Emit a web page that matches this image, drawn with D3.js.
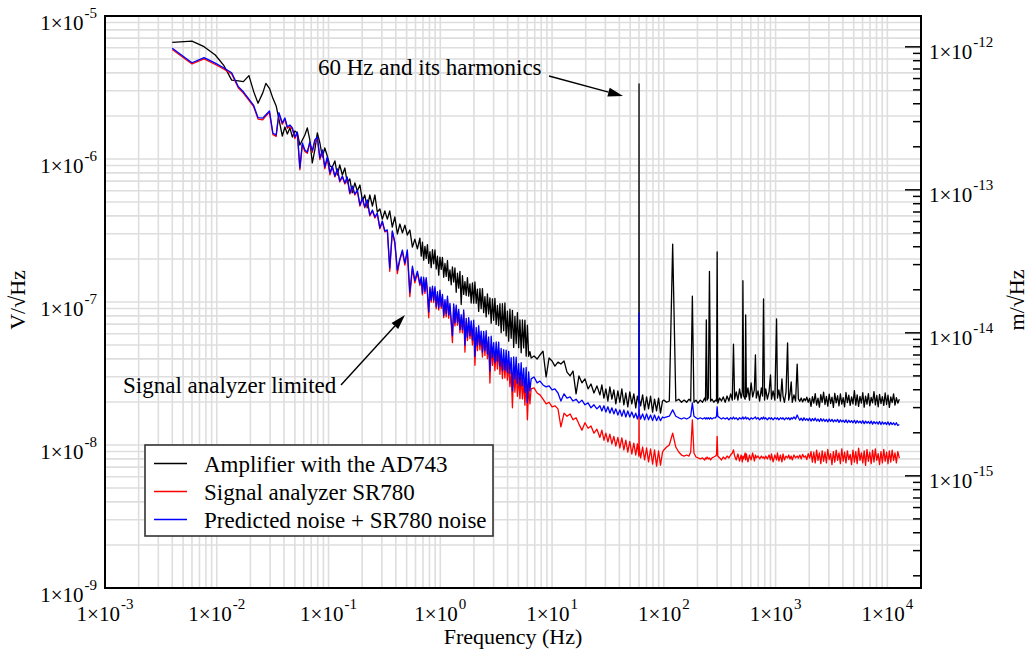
<!DOCTYPE html>
<html>
<head>
<meta charset="utf-8">
<script src="https://cdn.jsdelivr.net/npm/d3@7"></script>
<style>
  html, body { margin: 0; padding: 0; background: #ffffff; }
  svg { display: block; }
  svg text { font-family: "Liberation Serif", "Times New Roman", Times, "DejaVu Serif", serif; }
</style>
</head>
<body>
<svg id="chart" width="1033" height="651"></svg>
<script>
// Noise spectral density of the AD743 amplifier, SR780 floor and prediction.
// Amplitudes are stored in nV/√Hz; frequencies in Hz. Four SR780 sweeps are stitched.

// Sweep 1: 4 mHz – 0.1 Hz
const sweep1Hz = [0.004, 0.006, 0.0077, 0.0097, 0.0115, 0.0136, 0.0156, 0.0173, 0.0194, 0.0214,
  0.0234, 0.0258, 0.0275, 0.0296, 0.0318, 0.034, 0.036, 0.0386, 0.0407, 0.0428,
  0.0451, 0.0475, 0.05, 0.0526, 0.0554, 0.0583, 0.0614, 0.0646, 0.068, 0.0716,
  0.0754, 0.0794, 0.0837, 0.088, 0.0926, 0.0975, 0.103];
const sweep1Amplifier = [6550, 6680, 6100, 5335, 4540, 3560, 3520, 3475, 3830, 2960,
  2455, 2900, 3380, 3120, 2655, 2350, 1900, 1448, 1674, 1496,
  1649, 1425, 1570, 1521, 1253, 1359, 1472, 1649, 1359, 938,
  1157, 1521, 1294, 1033, 1195, 1050, 893];
const sweep1Analyzer = [5830, 4620, 5010, 4580, 4260, 3930, 3140, 2890, 2570, 2320,
  1900, 1880, 2000, 2120, 1480, 1440, 2070, 1750, 1900, 1640,
  1690, 1610, 1390, 1510, 840, 1260, 1130, 1095, 1290, 1115,
  1330, 1395, 990, 1130, 855, 1010, 775];
const sweep1Predicted = [5945, 4710, 5110, 4680, 4350, 4010, 3205, 2950, 2620, 2370,
  1945, 1930, 2040, 2168, 1514, 1473, 2110, 1786, 1937, 1674,
  1729, 1649, 1425, 1545, 866, 1294, 1157, 1120, 1316, 1139,
  1359, 1425, 1018, 1157, 879, 1033, 799];

// Sweep 2: 0.1 Hz – 6.4 Hz
const sweep2Hz = [0.108, 0.114, 0.120, 0.126, 0.133, 0.140, 0.147, 0.155, 0.163, 0.172,
  0.181, 0.191, 0.201, 0.211, 0.222, 0.234, 0.247, 0.260, 0.273, 0.288,
  0.303, 0.319, 0.336, 0.353, 0.372, 0.392, 0.413, 0.435, 0.458, 0.482,
  0.507, 0.534, 0.563, 0.592, 0.624, 0.657,
  0.675, 0.692, 0.710, 0.729, 0.748, 0.767, 0.788, 0.808, 0.829, 0.851,
  0.873, 0.896, 0.919, 0.943, 0.968, 0.993, 1.019, 1.045, 1.073, 1.101,
  1.129, 1.159, 1.189, 1.220, 1.252, 1.284, 1.318, 1.352, 1.388, 1.424,
  1.461, 1.499, 1.538, 1.578, 1.620, 1.662, 1.705, 1.749, 1.795, 1.842,
  1.890, 1.939, 1.990, 2.041, 2.095, 2.149, 2.205, 2.262, 2.321, 2.382,
  2.444, 2.508, 2.573, 2.640, 2.709, 2.780, 2.852, 2.927, 3.003, 3.081,
  3.162, 3.244, 3.329, 3.415, 3.504, 3.596, 3.690, 3.786, 3.885, 3.986,
  4.090, 4.198, 4.307, 4.419, 4.535, 4.653, 4.775, 4.898, 5.026, 5.158,
  5.292, 5.430, 5.571, 5.717, 5.866, 6.019, 6.176, 6.336];
const sweep2Amplifier = [879, 969, 773, 908, 773, 865, 680, 725, 579, 680,
  597, 658, 509, 560, 455, 560, 469, 560, 426, 447,
  380, 433, 380, 433, 334, 393, 299, 351, 304, 345,
  294, 319, 242, 275, 235, 280,
  209, 262, 196, 245, 202, 252, 186, 225, 174, 232,
  185, 231, 170, 209, 154, 206, 169, 205, 149, 186,
  151, 195, 141, 168, 132, 176, 138, 173, 117, 159,
  125, 164, 96, 153, 113, 139, 111, 148, 110, 134,
  98.4, 136, 98.2, 138, 97.9, 123, 85.9, 124, 89.9, 124,
  84.2, 109, 78.7, 114, 82.4, 107, 71.1, 105, 74.5, 106,
  69.7, 94.5, 68.4, 97.4, 61.0, 97.2, 62.9, 98.5, 57.9, 86.4,
  53.2, 89.0, 55.8, 87.4, 48.1, 79.2, 51.2, 84.3, 47.9, 75.1,
  44.1, 74.9, 47.7, 74.8, 41.8, 68.8, 41.7, 45];
const sweep2Analyzer = [879, 749, 838, 691, 749, 669, 736, 570, 637, 560,
  597, 469, 525, 455, 509, 400, 433, 387, 412, 325,
  362, 309, 314, 164, 309, 258, 158, 197, 224, 181,
  224, 109, 172, 136, 159, 130,
  145, 112, 144, 115, 144, 114, 77.5, 123, 99.7, 125,
  99.2, 124, 89.7, 114, 87.9, 117, 90.3, 109, 77.7, 100,
  78.6, 105, 77.0, 93.2, 70.7, 52.0, 92.5, 68.0, 90.6, 68.8,
  84.6, 61.2, 77.7, 60.9, 83.8, 44.6, 73.3, 53.8, 74.1, 55.4,
  68.1, 50.0, 68.9, 36.1, 61.3, 45.7, 62.9, 46.2, 57.8, 41.2,
  57.5, 42.3, 58.1, 40.1, 52.5, 27.1, 50.6, 36.0, 45.7, 33.1,
  46.2, 34.0, 46.1, 31.2, 41.6, 29.1, 40.8, 29.4, 40.5, 28.4,
  36.6, 25.6, 33.0, 18.2, 33.5, 23.4, 33.3, 21.9, 30.1, 21.1,
  30.5, 21.0, 27.9, 19.0, 28.3, 15.0, 26.3, 19.4];
const sweep2Predicted = [893, 761, 852, 702, 761, 680, 748, 579, 647, 569,
  607, 477, 534, 462, 517, 406, 440, 393, 419, 330,
  368, 314, 319, 173, 314, 262, 167, 200, 231, 187,
  231, 117, 178, 141, 164, 134,
  150, 115, 149, 119, 148, 118, 85.3, 127, 103, 129,
  103, 128, 92.7, 118, 90.8, 121, 93.3, 113, 80.3, 104,
  82.5, 110, 80.8, 97.8, 74.2, 58.2, 97.1, 71.4, 95.1, 72.2,
  88.8, 64.2, 81.5, 63.9, 87.9, 49.9, 76.9, 56.5, 77.8, 58.1,
  73.8, 54.2, 74.6, 41.7, 66.4, 49.5, 68.2, 50.1, 62.6, 44.6,
  62.3, 45.8, 63.0, 43.4, 56.9, 32.9, 57.6, 41.0, 52.0, 37.6,
  52.6, 38.7, 52.4, 35.5, 47.3, 33.1, 46.4, 33.5, 46.1, 32.3,
  45.2, 31.6, 40.8, 23.9, 41.3, 28.9, 41.1, 27.0, 37.1, 26.0,
  37.6, 25.9, 34.5, 23.4, 34.9, 19.8, 32.5, 23.9];

// Sweep 3: 6.4 Hz – 100 Hz (mains line at 60 Hz)
const sweep3Hz = [6.5, 6.9, 7.35, 7.8, 8.3, 8.85, 9.4, 10.0, 10.6, 11.3,
  12.0, 12.8, 13.6, 14.5, 15.4, 16.4, 17.4, 18.5, 19.7, 21.0,
  22.3, 23.7, 25.2, 26.8, 27.9, 29.1, 30.3, 31.6, 32.9, 34.3,
  35.7, 37.2, 38.8, 40.4, 42.1, 43.9, 45.7, 47.6, 49.6, 51.7,
  53.9, 56.1, 58.0, 59.8, 60.0, 60.2, 62.0, 64.6, 67.3, 70.1,
  73.0, 76.1, 79.3, 82.6, 86.1, 89.7, 93.4, 97.3];
const sweep3Amplifier = [40.6, 41.9, 39.9, 42.6, 45.3, 29.9, 40.6, 38.7, 35.6, 38.0,
  36.8, 38.7, 32.3, 30.4, 32.9, 22.8, 30.4, 27.2, 29.0, 24.7,
  26.7, 23.1, 25.9, 22.4, 26.3, 21.3, 24.7, 20.3, 25.5, 20.9,
  24.3, 19.4, 23.9, 19.9, 24.7, 19.1, 23.1, 18.5, 23.5, 19.4,
  22.8, 18.2, 22.0, 19.7, 3345, 21.3, 18.8, 22.4, 17.6, 21.7,
  17.9, 22.0, 17.0, 20.9, 17.3, 21.3, 16.7, 20.3];
const sweep3Analyzer = [24.7, 25.1, 23.1, 22.4, 20.9, 19.4, 19.9, 18.5, 18.8, 17.9,
  13.4, 16.7, 15.9, 16.5, 15.0, 15.5, 14.0, 12.7, 14.3, 13.1,
  13.6, 12.1, 12.9, 11.3, 12.7, 10.8, 12.1, 10.5, 11.9, 10.2,
  11.5, 9.84, 11.3, 9.53, 11.2, 9.23, 10.8, 8.93, 10.6, 8.65,
  10.3, 8.51, 10.2, 8.37, 17.6, 9.84, 8.12, 9.68, 7.86, 9.53,
  7.61, 9.38, 7.36, 9.23, 7.12, 9.08, 7.24, 8.93];
const sweep3Predicted = [29.0, 29.9, 27.2, 28.0, 26.3, 25.5, 25.9, 24.3, 24.7, 23.1,
  20.3, 22.8, 21.3, 21.7, 20.3, 20.9, 19.7, 20.6, 19.1, 19.7,
  18.2, 19.1, 17.9, 18.8, 17.3, 18.8, 17.0, 18.5, 16.7, 18.2,
  16.5, 17.9, 16.2, 17.6, 15.9, 17.6, 15.7, 17.3, 15.7, 17.0,
  15.5, 16.7, 15.2, 16.5, 83.8, 16.7, 15.2, 16.5, 15.0, 16.5,
  15.0, 16.2, 14.8, 16.2, 14.8, 15.9, 14.8, 15.7];

// Sweep 4: 100 Hz – 12.8 kHz (harmonics of 60 Hz)
const sweep4Hz = [100, 106, 112, 120, 128, 136, 144, 152, 160, 168,
  174, 180, 186, 194, 202, 212, 222, 232, 236, 240,
  244, 250, 256, 262, 270, 280, 290, 296, 300, 304,
  316, 328, 340, 354, 368, 382, 396, 410, 420, 430,
  445, 460, 476, 492, 504, 510, 518, 534, 540, 548,
  566, 584, 604, 624, 646, 660, 672, 696, 720, 746,
  764, 780, 796, 816, 844, 874, 900, 920, 950, 985,
  1020, 1040, 1070, 1105, 1140, 1165, 1200, 1240, 1280, 1310,
  1345, 1380, 1410, 1460, 1510, 1560,
  1600, 1647, 1695, 1745, 1796, 1848, 1902, 1958, 2016, 2075,
  2135, 2198, 2262, 2328, 2396, 2466, 2539, 2612, 2689, 2767,
  2848, 2932, 3017, 3105, 3196, 3290, 3386, 3485, 3587, 3692,
  3800, 3911, 4025, 4143, 4264, 4389, 4517, 4649, 4785, 4926,
  5070, 5218, 5370, 5528, 5689, 5856, 6027, 6203, 6385, 6571,
  6763, 6961, 7166, 7375, 7591, 7813, 8041, 8277, 8519, 8768,
  9024, 9290, 9561, 9840, 10130, 10420, 10730, 11040, 11370, 11700,
  12040, 12400, 12800];
const sweep4Amplifier = [20.6, 19.9, 20.3, 254, 20.3, 20.9, 19.9, 20.6, 19.9, 20.9,
  20.3, 110, 19.9, 20.6, 19.6, 20.6, 19.9, 21.3, 20.3, 75,
  20.6, 21.3, 164, 20.3, 20.9, 19.9, 20.6, 20.3, 224, 19.6,
  21.3, 20.3, 21.7, 19.9, 22.0, 20.3, 22.8, 20.6, 50.8, 20.9,
  23.5, 20.6, 24.7, 21.3, 23.5, 141, 22.0, 20.9, 81.1, 21.7,
  25.1, 20.6, 27.2, 21.7, 24.3, 42.6, 21.3, 23.9, 20.3, 25.1,
  22.0, 105, 20.6, 24.7, 20.9, 23.5, 30.9, 20.9, 23.9, 20.6,
  76.2, 21.3, 24.3, 20.3, 29.0, 22.0, 19.9, 23.5, 51.7, 20.6,
  22.8, 27.6, 19.9, 22.4, 20.3, 36.8,
  21.0, 20.2, 21.3, 20.0, 21.1, 20.4, 21.6, 19.9, 21.2, 18.6,
  21.8, 19.6, 22.9, 19.0, 21.3, 18.4, 22.5, 19.9, 23.4, 19.2,
  21.9, 18.7, 22.7, 19.5, 21.6, 18.3, 23.0, 19.7, 22.1, 18.8,
  22.8, 19.3, 21.4, 18.5, 23.3, 19.8, 22.3, 18.9, 21.7, 19.4,
  24.0, 19.0, 22.4, 18.6, 21.9, 19.6, 23.2, 18.4, 22.0, 19.3,
  22.9, 18.8, 21.5, 19.7, 23.6, 19.1, 22.2, 18.5, 22.6, 19.5,
  21.8, 18.9, 23.1, 19.2, 22.3, 18.3, 21.7, 19.8, 22.8, 19.0,
  21.4, 19.6, 20.9];
const sweep4Analyzer = [9.23, 9.68, 10.0, 12.1, 9.68, 8.93, 8.51, 8.37, 8.51, 8.37,
  8.93, 15.0, 8.79, 8.24, 8.12, 7.99, 8.12, 7.86, 8.12, 7.99,
  8.24, 7.99, 8.12, 7.86, 8.12, 8.24, 8.37, 8.51, 11.5, 8.37,
  8.12, 7.86, 8.24, 7.99, 8.37, 8.12, 8.51, 8.79, 9.23, 8.37,
  7.86, 8.65, 7.73, 8.51, 7.61, 8.37, 7.99, 8.79, 7.86, 8.65,
  7.61, 8.51, 7.86, 8.79, 7.73, 8.51, 8.12, 8.37, 7.99, 8.37,
  8.12, 8.24, 7.99, 8.37, 7.99, 8.51, 7.86, 8.65, 7.61, 8.51,
  7.86, 8.79, 7.73, 8.51, 7.61, 8.65, 7.86, 8.37, 8.12, 8.51,
  7.99, 8.37, 7.86, 8.51, 8.12, 8.37,
  8.1, 8.5, 8.0, 8.6, 8.2, 8.4, 7.9, 8.7, 8.1, 9.0,
  7.6, 8.9, 7.5, 9.2, 7.8, 8.8, 7.4, 9.1, 7.7, 8.9,
  7.5, 9.3, 7.9, 8.7, 7.3, 9.0, 7.6, 9.2, 7.8, 8.8,
  7.4, 9.4, 7.7, 8.9, 7.5, 9.1, 7.9, 8.6, 7.3, 9.2,
  7.6, 9.0, 7.4, 9.5, 7.8, 8.8, 7.5, 9.1, 7.2, 9.3,
  7.7, 8.9, 7.4, 9.2, 7.6, 9.4, 7.8, 8.7, 7.3, 9.0,
  7.5, 9.3, 7.7, 8.9, 7.4, 9.1, 7.6, 9.2, 7.8, 8.8,
  7.5, 9.0, 8.1];
const sweep4Predicted = [15.5, 15.7, 15.9, 17.6, 15.9, 15.5, 15.2, 15.5, 15.2, 15.5,
  15.9, 19.7, 15.9, 15.5, 15.2, 15.5, 15.2, 15.5, 15.2, 15.5,
  15.2, 15.5, 15.2, 15.5, 15.2, 15.5, 15.5, 15.9, 18.5, 15.9,
  15.5, 15.2, 15.5, 15.2, 15.5, 15.0, 15.5, 15.2, 15.7, 15.2,
  15.5, 15.0, 15.5, 15.2, 15.5, 15.7, 15.2, 15.5, 15.7, 15.2,
  15.5, 15.0, 15.5, 15.2, 15.5, 15.7, 15.2, 15.5, 15.0, 15.5,
  15.2, 15.7, 15.2, 15.5, 15.0, 15.5, 15.2, 15.5, 15.0, 15.5,
  15.2, 15.5, 15.0, 15.5, 15.2, 15.5, 15.0, 15.5, 15.2, 15.5,
  15.0, 15.5, 15.2, 15.7, 15.2, 16.2,
  15.5, 14.9, 15.4, 14.8, 15.5, 14.9, 15.3, 14.8, 15.4, 14.7,
  15.3, 14.8, 15.4, 14.7, 15.2, 14.6, 15.3, 14.7, 15.2, 14.6,
  15.1, 14.5, 15.2, 14.6, 15.1, 14.5, 15.0, 14.6, 15.1, 14.4,
  15.0, 14.5, 14.9, 14.4, 15.0, 14.3, 14.9, 14.4, 14.8, 14.3,
  14.9, 14.2, 14.8, 14.3, 14.7, 14.2, 14.8, 14.1, 14.7, 14.2,
  14.6, 14.1, 14.7, 14.0, 14.6, 14.1, 14.5, 14.0, 14.6, 13.9,
  14.5, 14.0, 14.4, 13.9, 14.5, 13.8, 14.4, 13.9, 14.3, 13.8,
  14.3, 13.7, 13.9];

// Axis decades and labels
const freqExponents = [-3, -2, -1, 0, 1, 2, 3, 4];
const voltExponents = [-9, -8, -7, -6, -5];
const metreExponents = [-15, -14, -13, -12];
const seriesLabels = ["Amplifier with the AD743", "Signal analyzer SR780", "Predicted noise + SR780 noise"];
const seriesColors = ["#000000", "#ff0000", "#0000ff"];
const metresPerVolt = 1.63e-7;   // transducer calibration for the right-hand axis

// ---------------------------------------------------------------------------
const serif = "'Liberation Serif', 'Times New Roman', Times, 'DejaVu Serif', serif";
const plot = { left: 105, top: 16, right: 921, bottom: 588 };
const x = d3.scaleLog().domain([1e-3, 2e4]).range([plot.left, plot.right]);
const yV = d3.scaleLog().domain([1e-9, 1e-5]).range([plot.bottom, plot.top]);
const yM = d3.scaleLog().domain([1e-9 * metresPerVolt, 1e-5 * metresPerVolt]).range([plot.bottom, plot.top]);

const svg = d3.select("#chart").attr("font-family", serif);
const mantissas = [1, 2, 3, 4, 5, 6, 7, 8, 9];

// grid
const grid = svg.append("g").attr("stroke", "#dedede").attr("stroke-width", 1.6);
const xGrid = d3.range(-3, 5).flatMap(e => mantissas.map(m => m * Math.pow(10, e)))
  .filter(v => v > 1.0001e-3 && v < 2e4);
const yGrid = d3.range(-9, -5).flatMap(e => mantissas.map(m => m * Math.pow(10, e)))
  .filter(v => v > 1.0001e-9 && v < 0.9999e-5);
grid.selectAll("line.v").data(xGrid).join("line").attr("class", "v")
  .attr("x1", d => x(d)).attr("x2", d => x(d))
  .attr("y1", plot.top).attr("y2", plot.bottom);
grid.selectAll("line.h").data(yGrid).join("line").attr("class", "h")
  .attr("x1", plot.left).attr("x2", plot.right)
  .attr("y1", d => yV(d)).attr("y2", d => yV(d));

// series
const freqHz = [...sweep1Hz, ...sweep2Hz, ...sweep3Hz, ...sweep4Hz];
const seriesValues = [
  [...sweep1Amplifier, ...sweep2Amplifier, ...sweep3Amplifier, ...sweep4Amplifier],
  [...sweep1Analyzer, ...sweep2Analyzer, ...sweep3Analyzer, ...sweep4Analyzer],
  [...sweep1Predicted, ...sweep2Predicted, ...sweep3Predicted, ...sweep4Predicted]
];
const line = d3.line().x(d => x(d[0])).y(d => yV(d[1] * 1e-9));

svg.append("clipPath").attr("id", "plotClip").append("rect")
  .attr("x", plot.left).attr("y", plot.top)
  .attr("width", plot.right - plot.left).attr("height", plot.bottom - plot.top);

const lines = svg.append("g").attr("clip-path", "url(#plotClip)");
seriesValues.forEach((vals, i) => {
  lines.append("path")
    .datum(d3.zip(freqHz, vals))
    .attr("fill", "none")
    .attr("stroke", seriesColors[i])
    .attr("stroke-width", 1.3)
    .attr("stroke-linejoin", "round")
    .attr("d", line);
});

// frame
svg.append("rect")
  .attr("x", plot.left).attr("y", plot.top)
  .attr("width", plot.right - plot.left).attr("height", plot.bottom - plot.top)
  .attr("fill", "none").attr("stroke", "#000").attr("stroke-width", 2);

// right axis ticks (m/√Hz), pointing into the plot
const rightMajor = metreExponents.map(e => Math.pow(10, e));
const [mLo, mHi] = yM.domain();
const rightMinor = d3.range(-16, -11).flatMap(e => mantissas.slice(1).map(m => m * Math.pow(10, e)))
  .filter(v => v > mLo && v < mHi);
function rightTicks(values, size) {
  svg.append("g")
    .attr("transform", `translate(${plot.right},0)`)
    .call(d3.axisLeft(yM).tickValues(values).tickSize(size).tickFormat(() => ""))
    .call(g => g.select(".domain").remove())
    .call(g => g.selectAll(".tick line").attr("stroke", "#000").attr("stroke-width", 1.5));
}
rightTicks(rightMinor, 8);
rightTicks(rightMajor, 16);

// tick labels of the form 1×10^n
function sciLabel(parent, px, py, exp, anchor) {
  const t = parent.append("text")
    .attr("x", px).attr("y", py)
    .attr("text-anchor", anchor)
    .attr("font-family", serif)
    .attr("font-size", 21).attr("fill", "#000");
  t.append("tspan").text("1×10");
  t.append("tspan").attr("dy", -12).attr("dx", 1).attr("font-size", 15).text(String(exp));
}
const labels = svg.append("g");
voltExponents.forEach(e => sciLabel(labels, 97, yV(Math.pow(10, e)) + 13.5, e, "end"));
freqExponents.forEach(e => sciLabel(labels, x(Math.pow(10, e)), 620.5, e, "middle"));
metreExponents.forEach(e => sciLabel(labels, 929, yM(Math.pow(10, e)) + 12.5, e, "start"));

// axis titles
function title(text, transform) {
  svg.append("text").attr("transform", transform)
    .attr("text-anchor", "middle").attr("font-family", serif).attr("font-size", 22).text(text);
}
title("Frequency (Hz)", `translate(${(plot.left + plot.right) / 2},644)`);
title("V/√Hz", "translate(25,300) rotate(-90)");
title("m/√Hz", "translate(1024,300) rotate(-90)");

// annotations with arrows
function arrow(x1, y1, x2, y2) {
  const g = svg.append("g");
  const ang = Math.atan2(y2 - y1, x2 - x1);
  const len = 15, half = 4.5;
  const bx = x2 - len * Math.cos(ang), by = y2 - len * Math.sin(ang);
  g.append("line").attr("x1", x1).attr("y1", y1).attr("x2", bx).attr("y2", by)
    .attr("stroke", "#000").attr("stroke-width", 1.4);
  g.append("path")
    .attr("d", `M${x2},${y2} L${bx - half * Math.sin(ang)},${by + half * Math.cos(ang)} L${bx + half * Math.sin(ang)},${by - half * Math.cos(ang)} Z`)
    .attr("fill", "#000");
}
function note(text, px, py) {
  svg.append("text").attr("x", px).attr("y", py)
    .attr("font-family", serif).attr("font-size", 23).text(text);
}
note("60 Hz and its harmonics", 318, 75);
arrow(549, 76, 623, 96);
note("Signal analyzer limited", 123, 393);
arrow(341, 385, 405, 315);

// legend
const legend = svg.append("g");
legend.append("rect").attr("x", 145).attr("y", 445).attr("width", 348).attr("height", 91)
  .attr("fill", "#fff").attr("stroke", "#333").attr("stroke-width", 1.6);
seriesLabels.forEach((lab, i) => {
  const cy = 463.5 + i * 28;
  legend.append("line").attr("x1", 154).attr("x2", 187).attr("y1", cy).attr("y2", cy)
    .attr("stroke", seriesColors[i]).attr("stroke-width", 1.5);
  legend.append("text").attr("x", 204).attr("y", cy + 8)
    .attr("font-family", serif).attr("font-size", 23).text(lab);
});
</script>
</body>
</html>
